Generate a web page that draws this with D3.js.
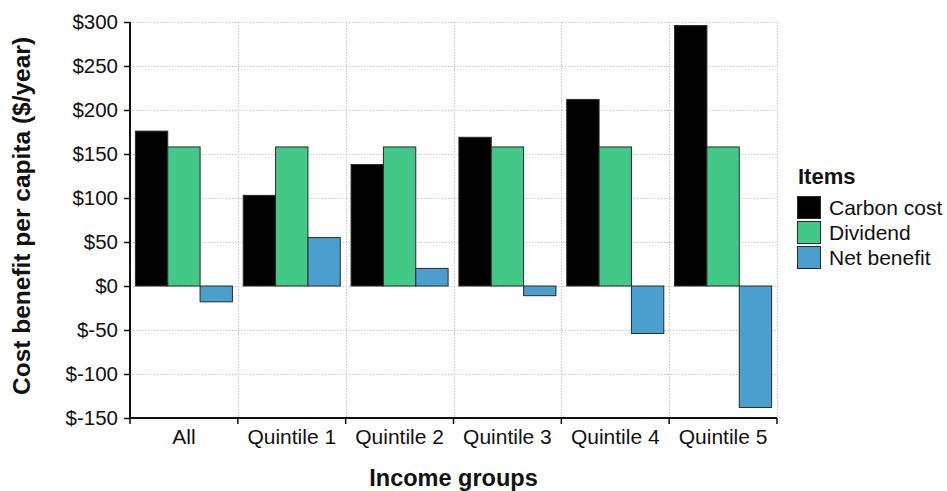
<!DOCTYPE html>
<html>
<head>
<meta charset="utf-8">
<script src="https://cdn.jsdelivr.net/npm/d3@7"></script>
<style>
  html, body { margin: 0; padding: 0; background: #fff; }
  svg { display: block; font-family: Arial, "Liberation Sans", sans-serif; }
</style>
</head>
<body>
<svg id="chart" width="947" height="491"></svg>
<script>
// Income groups along the x axis
const groups = ["All", "Quintile 1", "Quintile 2", "Quintile 3", "Quintile 4", "Quintile 5"];
// Items shown for each group
const items = ["Carbon cost", "Dividend", "Net benefit"];
const itemColors = ["#000000", "#43c987", "#4a9fcd"];
// Per-capita values ($/year)
const carbonCost = [176, 103, 138, 169, 212, 296];
const dividend = [158, 158, 158, 158, 158, 158];
const netBenefit = [-18, 55, 20, -11, -54, -138];
// Y axis ticks
const yTicks = [-150, -100, -50, 0, 50, 100, 150, 200, 250, 300];

const series = [carbonCost, dividend, netBenefit];
const rows = groups.map((g, i) => ({ group: g, values: series.map((s, k) => ({ item: items[k], value: s[i] })) }));

const svg = d3.select("#chart");
const plotLeft = 130, plotRight = 777, plotTop = 22, plotBottom = 418;

const x = d3.scaleBand().domain(groups).range([plotLeft, plotRight]).padding(0);
const xSub = d3.scaleBand().domain(items).range([5.4, x.bandwidth() - 5.4]).padding(0);
const y = d3.scaleLinear().domain([-150, 300]).range([plotBottom, plotTop]);
const color = d3.scaleOrdinal().domain(items).range(itemColors);

const fmt = v => "$" + v;

// Grid lines
const grid = svg.append("g").attr("stroke", "#c8c8c8").attr("stroke-width", 1).attr("stroke-dasharray", "1.5,1.5");
grid.selectAll("line.h").data(yTicks.filter(t => t !== -150)).join("line")
  .attr("x1", plotLeft).attr("x2", plotRight)
  .attr("y1", d => Math.round(y(d)) + 0.5).attr("y2", d => Math.round(y(d)) + 0.5);
const bounds = groups.map(g => x(g)).concat([plotRight]).slice(1);
grid.selectAll("line.v").data(bounds).join("line")
  .attr("x1", d => Math.round(d) + 0.5).attr("x2", d => Math.round(d) + 0.5)
  .attr("y1", plotTop).attr("y2", plotBottom);

// Bars
const gGroups = svg.append("g").selectAll("g").data(rows).join("g")
  .attr("transform", d => `translate(${x(d.group)},0)`);
gGroups.selectAll("rect").data(d => d.values).join("rect")
  .attr("x", d => xSub(d.item))
  .attr("width", xSub.bandwidth())
  .attr("y", d => y(Math.max(0, d.value)))
  .attr("height", d => Math.abs(y(d.value) - y(0)))
  .attr("fill", d => color(d.item))
  .attr("stroke", "#2a2a2a")
  .attr("stroke-width", 1);

// Y axis
const yAxis = svg.append("g").attr("transform", `translate(${plotLeft},0)`)
  .call(d3.axisLeft(y).tickValues(yTicks).tickFormat(fmt).tickSize(6).tickPadding(6));
yAxis.select(".domain").attr("stroke", "#111").attr("stroke-width", 2).attr("d", `M0,${plotTop}V${plotBottom}`);
yAxis.selectAll(".tick line").attr("stroke", "#111").attr("stroke-width", 1.5);
yAxis.selectAll(".tick text").attr("font-size", 20.5).attr("fill", "#111").attr("font-family", "Arial, 'Liberation Sans', sans-serif");

// X axis
const xAxis = svg.append("g").attr("transform", `translate(0,${plotBottom})`)
  .call(d3.axisBottom(x).tickSize(0).tickPadding(11));
xAxis.select(".domain").attr("stroke", "#111").attr("stroke-width", 2).attr("d", `M${plotLeft},0H${plotRight}`);
xAxis.selectAll(".tick text").attr("font-size", 21).attr("fill", "#111").attr("font-family", "Arial, 'Liberation Sans', sans-serif");
xAxis.selectAll("line.sep").data([plotLeft].concat(bounds)).join("line")
  .attr("class", "sep")
  .attr("x1", d => d).attr("x2", d => d).attr("y1", 0).attr("y2", 6)
  .attr("stroke", "#111").attr("stroke-width", 1.5);

// Axis titles
svg.append("text")
  .attr("x", (plotLeft + plotRight) / 2).attr("y", 486)
  .attr("text-anchor", "middle").attr("font-size", 23.5).attr("font-weight", "bold").attr("fill", "#111")
  .text("Income groups");
svg.append("text")
  .attr("transform", `translate(30,${(plotTop + plotBottom) / 2 - 4}) rotate(-90)`)
  .attr("text-anchor", "middle").attr("font-size", 24.5).attr("font-weight", "bold").attr("fill", "#111")
  .text("Cost benefit per capita ($/year)");

// Legend
const legend = svg.append("g").attr("transform", "translate(797,0)");
legend.append("text").attr("x", 1).attr("y", 184)
  .attr("font-size", 22).attr("font-weight", "bold").attr("fill", "#111").text("Items");
const li = legend.selectAll("g.item").data(items).join("g")
  .attr("class", "item")
  .attr("transform", (d, i) => `translate(0,${196 + i * 25})`);
li.append("rect").attr("x", 0.5).attr("y", 0.5).attr("width", 23).attr("height", 22)
  .attr("fill", d => color(d)).attr("stroke", "#2a2a2a").attr("stroke-width", 1);
li.append("text").attr("x", 32).attr("y", 19)
  .attr("font-size", 21).attr("fill", "#111").text(d => d);
</script>
</body>
</html>
